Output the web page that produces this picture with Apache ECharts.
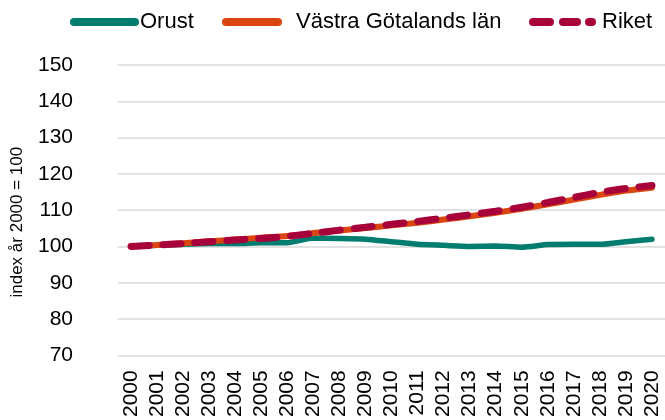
<!DOCTYPE html>
<html>
<head>
<meta charset="utf-8">
<script src="https://cdn.jsdelivr.net/npm/echarts@6/dist/echarts.min.js"></script>
<style>
  html, body { margin: 0; padding: 0; background: #fff; }
  #chart { width: 665px; height: 420px; }
</style>
</head>
<body>
<div id="chart"></div>
<script>
var years = ['2000','2001','2002','2003','2004','2005','2006','2007','2008','2009','2010',
             '2011','2012','2013','2014','2015','2016','2017','2018','2019','2020'];
var orust = [100, 100.3, 100.6, 100.8, 100.8, 101, 101, 102.3, 102.2, 102, 101.3,
             100.6, 100.3, 100, 100.1, 99.8, 100.5, 100.6, 100.6, 101.3, 102];
var vastraGotaland = [100, 100.4, 100.9, 101.4, 101.9, 102.4, 102.9, 103.7, 104.4, 105.1, 105.8,
                      106.5, 107.4, 108.3, 109.3, 110.4, 111.6, 112.9, 114.2, 115.4, 116.2];
var riket = [100, 100.4, 100.8, 101.3, 101.8, 102.2, 102.8, 103.6, 104.5, 105.3, 106.1,
             106.9, 107.8, 108.7, 109.7, 110.8, 112.1, 113.5, 114.9, 116.0, 116.8];

var font = 'Liberation Sans, Arial, sans-serif';
var cOrust = '#007D6E', cVG = '#DA4512', cRiket = '#A8003A';
var legendText = { fontFamily: font, fontSize: 22, color: '#000' };
var hideSymbol = { opacity: 0 };

var chart = echarts.init(document.getElementById('chart'));
chart.setOption({
  backgroundColor: '#fff',
  animation: false,
  legend: [
    {
      left: 65, top: 6, itemWidth: 61, itemHeight: 8,
      textStyle: legendText, itemStyle: hideSymbol,
      lineStyle: { width: 8, cap: 'round', type: 'solid' },
      data: ['Orust']
    },
    {
      left: 217, top: 6, itemWidth: 52, itemHeight: 8,
      textStyle: Object.assign({ padding: [0, 0, 0, 13] }, legendText), itemStyle: hideSymbol,
      lineStyle: { width: 8, cap: 'round', type: 'solid' },
      data: ['Västra Götalands län']
    },
    {
      left: 524, top: 6, itemWidth: 59, itemHeight: 8,
      textStyle: Object.assign({ padding: [0, 0, 0, 5] }, legendText), itemStyle: hideSymbol,
      lineStyle: { width: 8, cap: 'round', type: [17, 13, 14, 12] },
      data: ['Riket']
    }
  ],
  grid: { left: 118, right: 0, top: 65, bottom: 64 },
  xAxis: {
    type: 'category',
    data: years,
    boundaryGap: true,
    axisLine: { show: false },
    axisTick: { show: false },
    axisLabel: { rotate: 90, interval: 0, fontFamily: font, fontSize: 21, color: '#000', margin: 15 }
  },
  yAxis: {
    type: 'value',
    min: 70,
    max: 150,
    interval: 10,
    name: 'index år 2000 = 100',
    nameLocation: 'middle',
    nameGap: 92,
    nameTextStyle: { fontFamily: font, fontSize: 17, color: '#000', padding: [0, 24, 0, 0] },
    axisLabel: { fontFamily: font, fontSize: 21, color: '#000', margin: 45 },
    splitLine: { lineStyle: { color: '#d9d9d9', width: 1.5 } }
  },
  series: [
    {
      name: 'Orust', type: 'line', data: orust, symbol: 'none', smooth: 0.2,
      lineStyle: { color: cOrust, width: 5.5, cap: 'round' },
      itemStyle: { color: cOrust }
    },
    {
      name: 'Västra Götalands län', type: 'line', data: vastraGotaland, symbol: 'none', smooth: 0.2,
      lineStyle: { color: cVG, width: 6, cap: 'round' },
      itemStyle: { color: cVG }
    },
    {
      name: 'Riket', type: 'line', data: riket, symbol: 'none', smooth: 0.2,
      lineStyle: { color: cRiket, width: 7, type: [18, 14], cap: 'round' },
      itemStyle: { color: cRiket }
    }
  ]
});
</script>
</body>
</html>
